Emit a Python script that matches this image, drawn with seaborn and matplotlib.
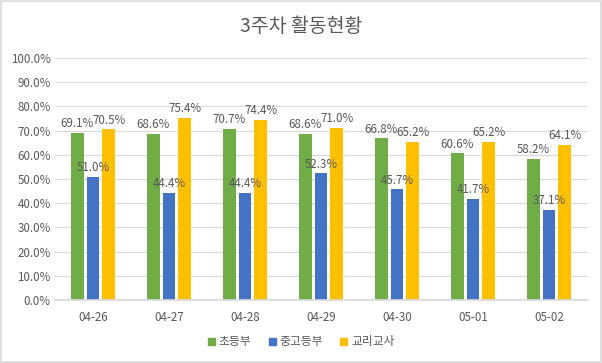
import matplotlib
matplotlib.use("Agg")
import matplotlib.pyplot as plt
import seaborn as sns
import pandas as pd
import numpy as np
from matplotlib.ticker import PercentFormatter, FixedLocator

dates = ["04-26", "04-27", "04-28", "04-29", "04-30", "05-01", "05-02"]
elementary = [69.1, 68.6, 70.7, 68.6, 66.8, 60.6, 58.2]
youth = [51.0, 44.4, 44.4, 52.3, 45.7, 41.7, 37.1]
teachers = [70.5, 75.4, 74.4, 71.0, 65.2, 65.2, 64.1]
series_names = ["초등부", "중고등부", "교리교사"]
colors = ["#70AD47", "#4472C4", "#FFC000"]

df = pd.DataFrame({
    "date": dates * 3,
    "group": [series_names[0]] * 7 + [series_names[1]] * 7 + [series_names[2]] * 7,
    "value": elementary + youth + teachers,
})

sns.set_theme(style="white")
plt.rcParams["font.family"] = ["Noto Sans CJK KR", "DejaVu Sans"]
txt = "#595959"

fig = plt.figure(figsize=(6.02, 3.63), dpi=100)
ax = fig.add_axes([55 / 602, 1 - 300 / 363, 532 / 602, 242 / 363])

sns.barplot(data=df, x="date", y="value", hue="group", hue_order=series_names,
            palette=colors, saturation=1, width=0.62, gap=0.2, linewidth=0,
            edgecolor="none", ax=ax, legend=True)

for cont in ax.containers:
    ax.bar_label(cont, labels=[f"{v:.1f}%" for v in cont.datavalues],
                 padding=2, fontsize=8.3, color=txt)

ax.set_ylim(0, 100)
ax.set_xlim(-0.5, 6.5)
ax.yaxis.set_major_locator(FixedLocator(np.arange(0, 101, 10)))
ax.yaxis.set_major_formatter(PercentFormatter(decimals=1))
ax.grid(axis="y", color="#D9D9D9", linewidth=0.8)
ax.set_axisbelow(True)
for s in ["top", "right", "left"]:
    ax.spines[s].set_visible(False)
ax.spines["bottom"].set_color("#D9D9D9")
ax.tick_params(axis="y", length=0, labelsize=8.3, labelcolor=txt, pad=3)
ax.tick_params(axis="x", which="major", length=0, labelsize=8.3, labelcolor=txt, pad=8)
ax.set_xticks(np.arange(-0.5, 7, 1), minor=True)
ax.tick_params(axis="x", which="minor", length=4, color="#D9D9D9", width=0.8)
ax.set_xlabel("")
ax.set_ylabel("")

ax.legend_.remove()
handles = [plt.Rectangle((0, 0), 1, 1, color=c) for c in colors]
fig.legend(handles, series_names, loc="center", bbox_to_anchor=(0.5, 1 - 342 / 363),
           ncol=3, frameon=False, fontsize=8.5, labelcolor=txt,
           handlelength=0.6, handleheight=0.6, handletextpad=0.3, columnspacing=1.5)

fig.text(0.5, 1 - 26 / 363, "3주차 활동현황", ha="center", va="center",
         fontsize=14, color=txt)

fig.patches.append(plt.Rectangle((0.001, 0.002), 0.997, 0.995, transform=fig.transFigure,
                                 fill=False, edgecolor="#D9D9D9", linewidth=1.2))

fig.savefig("out.png", dpi=100)
